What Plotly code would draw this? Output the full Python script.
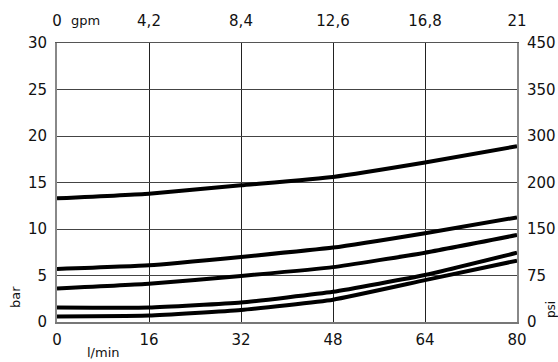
import plotly.graph_objects as go

# Data
flow_lpm = [0, 16, 32, 48, 64, 80]
curve_a = [13.3, 13.8, 14.7, 15.6, 17.15, 18.9]
curve_b = [5.7, 6.1, 7.0, 8.0, 9.55, 11.25]
curve_c = [3.6, 4.1, 4.95, 5.9, 7.45, 9.35]
curve_d = [1.55, 1.55, 2.1, 3.25, 5.05, 7.45]
curve_e = [0.6, 0.7, 1.3, 2.4, 4.5, 6.6]

x_ticks = [0, 16, 32, 48, 64, 80]
gpm_labels = ["0", "4,2", "8,4", "12,6", "16,8", "21"]
bar_ticks = [0, 5, 10, 15, 20, 25, 30]
psi_labels = ["0", "75", "150", "200", "300", "350", "450"]

FONT = "DejaVu Sans"
fig = go.Figure()
for ys in [curve_a, curve_b, curve_c, curve_d, curve_e]:
    fig.add_trace(go.Scatter(x=flow_lpm, y=ys, mode="lines",
                             line=dict(color="black", width=4, shape="spline", smoothing=0.4),
                             showlegend=False, hoverinfo="skip"))
# invisible trace to activate secondary axes
fig.add_trace(go.Scatter(x=[0, 80], y=[0, 30], xaxis="x2", yaxis="y2", mode="markers",
                         marker=dict(opacity=0), showlegend=False, hoverinfo="skip"))

axis_font = dict(family=FONT, size=15, color="#111")
fig.update_layout(
    width=558, height=362,
    margin=dict(l=57, r=41, t=43, b=40, autoexpand=False),
    paper_bgcolor="white", plot_bgcolor="white",
    font=dict(family=FONT, size=15, color="#111"),
    xaxis=dict(range=[0, 80], tickvals=x_ticks, ticktext=[str(v) for v in x_ticks],
               showgrid=True, gridcolor="#222", gridwidth=1, zeroline=False,
               showline=True, linecolor="#777", linewidth=2, mirror=False,
               ticks="outside", ticklen=3, tickcolor="rgba(0,0,0,0)",
               tickfont=axis_font, automargin=False),
    yaxis=dict(range=[0, 30], tickvals=bar_ticks, ticktext=[str(v) for v in bar_ticks],
               showgrid=True, gridcolor="#444", gridwidth=1, zeroline=False,
               showline=True, linecolor="#888", linewidth=2,
               ticks="outside", ticklen=5, tickcolor="rgba(0,0,0,0)",
               tickfont=axis_font, automargin=False),
    xaxis2=dict(range=[0, 80], overlaying="x", side="top", tickvals=x_ticks,
                ticktext=gpm_labels, showgrid=False, zeroline=False,
                showline=True, linecolor="#555", linewidth=1,
                ticks="outside", ticklen=10, tickcolor="rgba(0,0,0,0)",
                tickfont=axis_font, automargin=False),
    yaxis2=dict(range=[0, 30], overlaying="y", side="right", tickvals=bar_ticks,
                ticktext=psi_labels, showgrid=False, zeroline=False,
                showline=True, linecolor="#888", linewidth=2,
                ticks="outside", ticklen=5, tickcolor="rgba(0,0,0,0)",
                tickfont=axis_font, automargin=False),
)

ann_font = dict(family=FONT, size=13, color="#111")
fig.add_annotation(text="gpm", xref="paper", yref="paper", x=0.063, y=1.082,
                   xanchor="center", yanchor="middle", showarrow=False, font=ann_font)
fig.add_annotation(text="bar", xref="paper", yref="paper", x=-0.0913, y=0.0896,
                   xanchor="center", yanchor="middle", textangle=-90, showarrow=False, font=ann_font)
fig.add_annotation(text="l/min", xref="paper", yref="paper", x=0.102, y=-0.111,
                   xanchor="center", yanchor="middle", showarrow=False, font=ann_font)
fig.add_annotation(text="psi", xref="paper", yref="paper", x=1.074, y=0.043,
                   xanchor="center", yanchor="middle", textangle=-90, showarrow=False,
                   font=dict(family=FONT, size=12, color="#111"))

fig.write_html("out.html", config={"displayModeBar": False},
               post_script="document.body.style.margin='0';document.body.style.overflow='hidden';")
